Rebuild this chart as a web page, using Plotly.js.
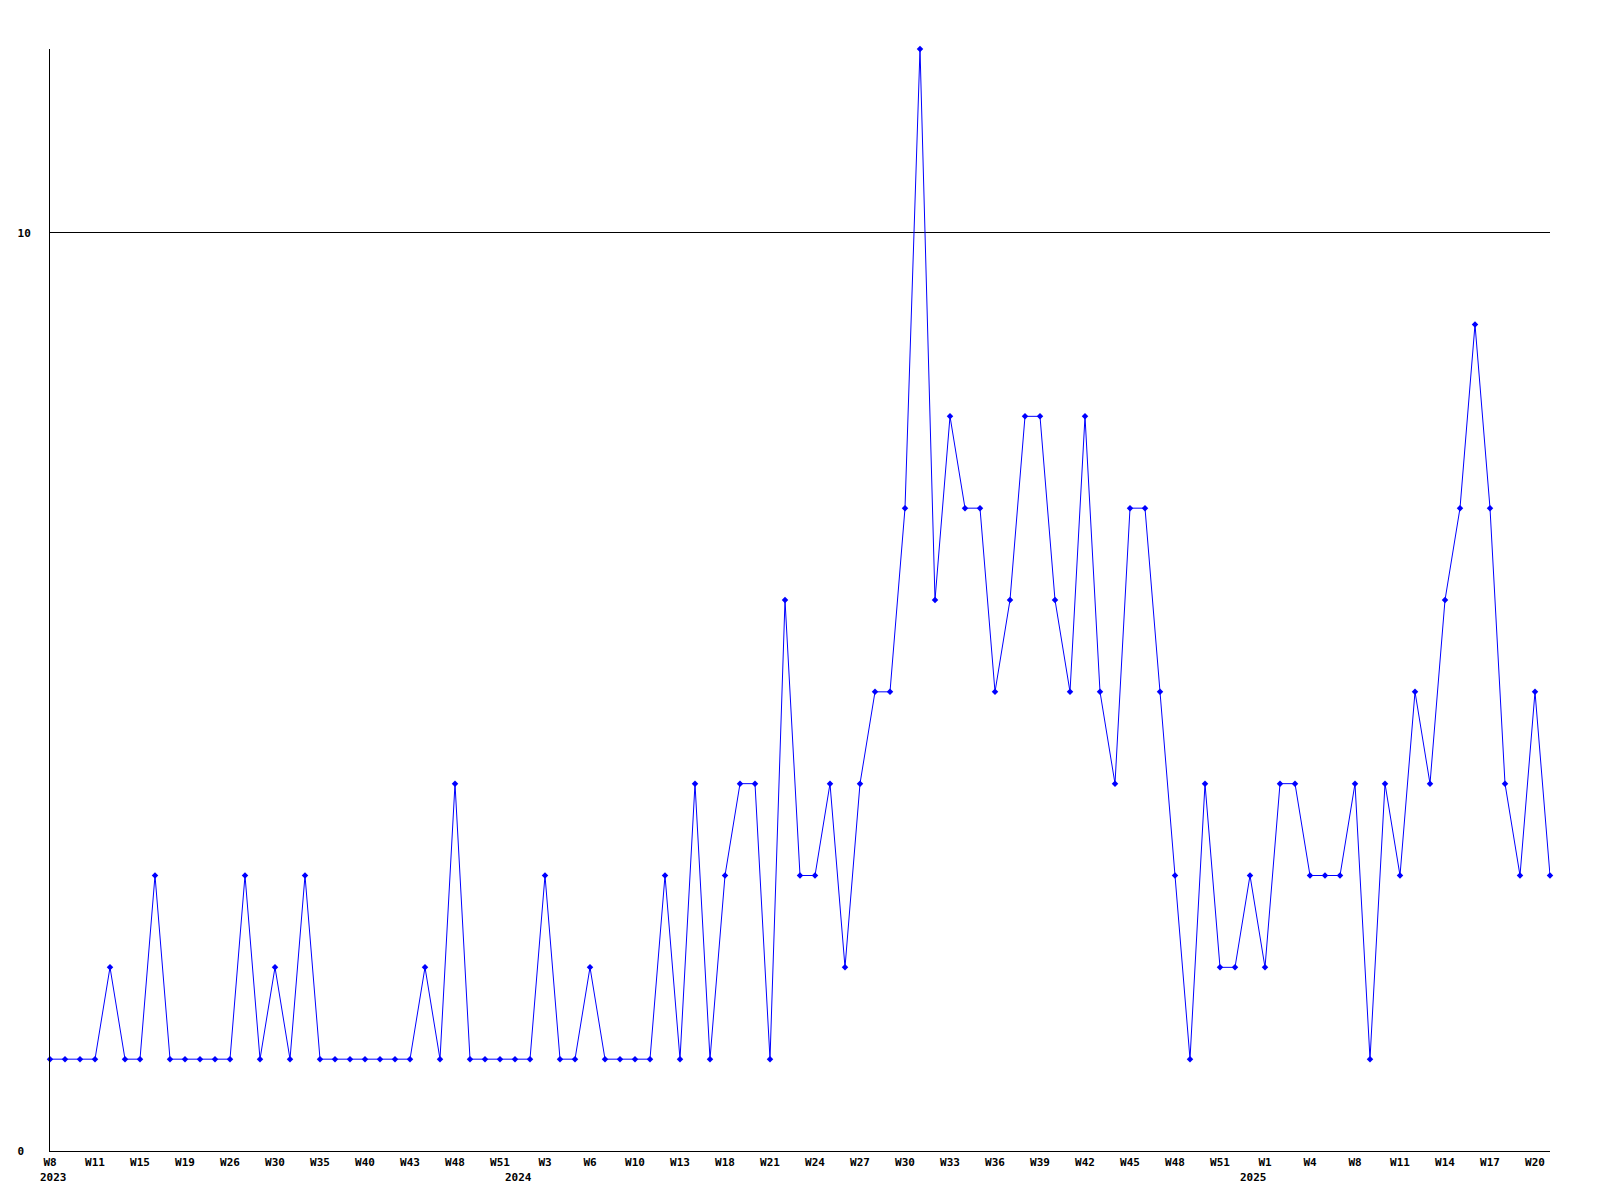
<!DOCTYPE html>
<html>
<head>
<meta charset="utf-8">
<script src="https://cdn.plot.ly/plotly-3.0.1.min.js"></script>
<style>html,body{margin:0;padding:0;background:#fff;}#chart{width:1600px;height:1200px;}</style>
</head>
<body>
<div id="chart"></div>
<script>
// Weekly values (one per point, in order)
const values = [
  1,1,1,1,2,1,1,3,1,1,
  1,1,1,3,1,2,1,3,1,1,
  1,1,1,1,1,2,1,4,1,1,
  1,1,1,3,1,1,2,1,1,1,
  1,3,1,4,1,3,4,4,1,6,
  3,3,4,2,4,5,5,7,12,6,
  8,7,7,5,6,8,8,6,5,8,
  5,4,7,7,5,3,1,4,2,2,
  3,2,4,4,3,3,3,4,1,4,
  3,5,4,6,7,9,7,4,3,5,
  3
];
// Week labels shown on every third point
const weekLabels = [
  "W8","W11","W15","W19","W26","W30","W35","W40","W43","W48","W51",
  "W3","W6","W10","W13","W18","W21","W24","W27","W30","W33","W36","W39","W42","W45","W48","W51",
  "W1","W4","W8","W11","W14","W17","W20"
];
const labelStep = 3;
const years = ["2023","2024","2025"];
const yearPos = [0.2, 31.2, 80.2];
const yTickVals = [0, 10];
const yTickText = ["0\u00a0", "10"];

const xIdx = values.map((_, i) => i);
const tickVals = weekLabels.map((_, i) => i * labelStep);

const font = {family: "DejaVu Sans Mono, Liberation Mono, monospace", size: 11, color: "#000"};

const trace = {
  x: xIdx,
  y: values,
  type: "scatter",
  mode: "lines+markers",
  line: {color: "#0000ff", width: 1},
  marker: {symbol: "diamond", size: 5, color: "#0000ff", line: {width: 0}},
  hoverinfo: "skip",
  cliponaxis: false
};

const layout = {
  width: 1600,
  height: 1200,
  margin: {l: 50, r: 50, t: 49, b: 49, pad: 0},
  paper_bgcolor: "#fff",
  plot_bgcolor: "#fff",
  showlegend: false,
  font: font,
  xaxis: {
    range: [0, 100],
    tickmode: "array",
    tickvals: tickVals,
    ticktext: weekLabels,
    tickangle: 0,
    ticks: "",
    showgrid: false,
    zeroline: false,
    showline: true,
    linecolor: "#000",
    linewidth: 1,
    tickfont: {family: font.family, size: 11, color: "#000", weight: "bold"},
    ticklabelstandoff: 1,
    fixedrange: true
  },
  yaxis: {
    range: [0, 12],
    tickmode: "array",
    tickvals: yTickVals,
    ticktext: yTickText,
    ticks: "",
    showgrid: true,
    gridcolor: "#000",
    gridwidth: 1,
    zeroline: false,
    showline: true,
    linecolor: "#000",
    linewidth: 1,
    tickfont: {family: font.family, size: 11, color: "#000", weight: "bold"},
    ticklabelstandoff: 16,
    fixedrange: true
  },
  annotations: years.map((t, i) => ({
    text: t,
    x: yearPos[i],
    xref: "x",
    y: -0.024,
    yref: "paper",
    xanchor: "center",
    yanchor: "middle",
    showarrow: false,
    font: {family: font.family, size: 11, color: "#000", weight: "bold"}
  }))
};

Plotly.newPlot("chart", [trace], layout, {displayModeBar: false, staticPlot: true});
</script>
</body>
</html>
